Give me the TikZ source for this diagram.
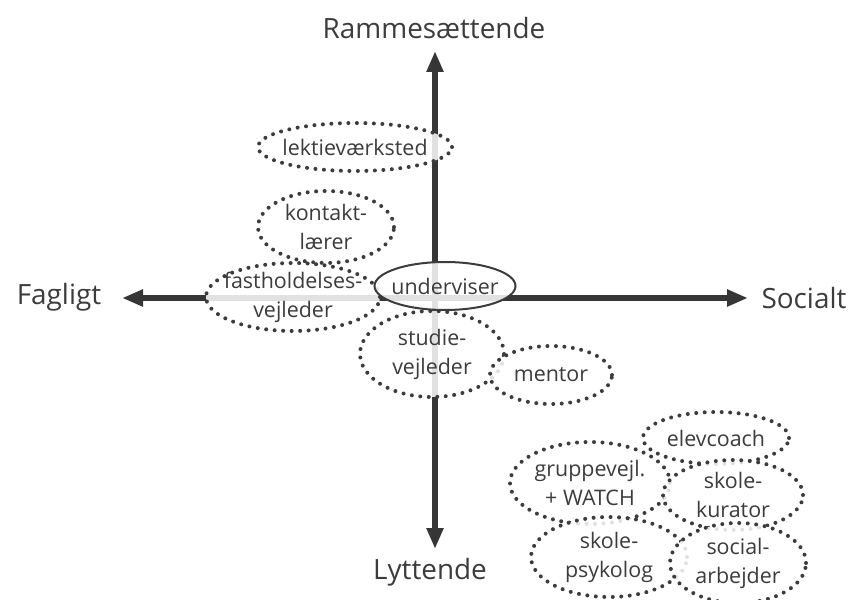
\documentclass[tikz,border=0pt]{standalone}
\usepackage{fontspec}
\setmainfont{Open Sans}
\usetikzlibrary{arrows.meta,shapes.geometric}
\definecolor{axisgray}{HTML}{363636}
\definecolor{txtgray}{HTML}{3C3C3C}
\begin{document}
\begin{tikzpicture}[x=1bp,y=-1bp,
  axis/.style={line width=6bp, color=axisgray, -{Triangle[length=21bp,width=16bp]}},
  axlabel/.style={font=\fontsize{28}{32}\selectfont, text=txtgray, inner sep=0},
  rolelabel/.style={text=txtgray, text opacity=1, inner sep=0, align=center,
     font=\fontsize{21.5}{29}\selectfont},
  role/.style={ellipse, draw=txtgray, line width=4bp, dash pattern=on 0bp off 8.5bp, line cap=round,
     fill=white, fill opacity=0.85, inner sep=0, label={[rolelabel]center:{#1}}},
  solidrole/.style={role=#1, solid, line width=2bp, line cap=butt}]
\useasboundingbox (0,0) rectangle (851,600);
\coordinate (O) at (435,298);
\coordinate (T) at (435,51);
\coordinate (B) at (435,549);
\coordinate (L) at (122,298);
\coordinate (R) at (748,298);
\draw[axis] (O) -- (T);
\draw[axis] (O) -- (B);
\draw[axis] (O) -- (L);
\draw[axis] (O) -- (R);
\node[axlabel] (top) at (434,28) {Rammesættende};
\node[axlabel] (left) at (59,297) {Fagligt};
\node[axlabel] (right) at (804,298) {Socialt};
\node[axlabel] (bottom) at (430,572) {Lyttende};
% roles
\node[role={lektieværksted}, minimum width=194bp, minimum height=48bp] (lek) at (355,147) {};
\node[role={kontakt-\\lærer}, minimum width=136bp, minimum height=72bp] (kon) at (326,227) {};
\node[role={fastholdelses-\\vejleder}, minimum width=174bp, minimum height=68bp] (fas) at (293,297) {};
\node[role={studie-\\vejleder}, minimum width=144bp, minimum height=86bp] (stu) at (432,354) {};
\node[solidrole={underviser}, minimum width=141bp, minimum height=48bp] (und) at (445,286) {};
\node[role={mentor}, minimum width=122bp, minimum height=58bp] (men) at (551,375) {};
\node[role={elevcoach}, minimum width=146bp, minimum height=52bp] (elc) at (716,438) {};
\node[role={gruppevejl.\\+ WATCH}, minimum width=160bp, minimum height=82bp] (gru) at (590,483) {};
\node[role={skole-\\kurator}, minimum width=140bp, minimum height=70bp] (kur) at (733,495) {};
\node[role={skole-\\psykolog}, minimum width=156bp, minimum height=80bp] (psy) at (609,557) {};
\node[role={social-\\arbejder}, minimum width=136bp, minimum height=80bp] (soc) at (738,563) {};
\end{tikzpicture}
\end{document}
